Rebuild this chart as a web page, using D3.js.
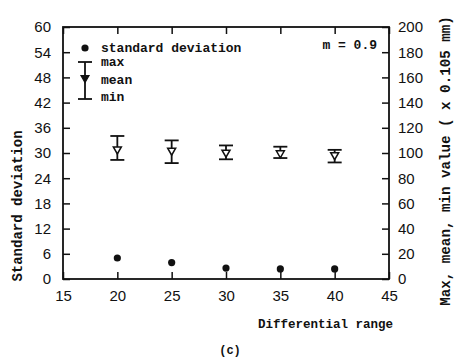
<!DOCTYPE html>
<html><head><meta charset="utf-8">
<script src="https://cdn.jsdelivr.net/npm/d3@7"></script>
<style>body{margin:0;background:#fff}svg{display:block}</style>
</head><body>
<script>
const diffRange = [20, 25, 30, 35, 40];
const stdDev = [5.0, 3.9, 2.6, 2.4, 2.4];
const maxVal = [113.5, 110, 106, 105, 102.5];
const meanVal = [102, 101, 99.5, 99, 97.5];
const minVal = [94.5, 92, 95, 96, 92.5];
const xTicks = [15, 20, 25, 30, 35, 40, 45];
const yLeftTicks = [0, 6, 12, 18, 24, 30, 36, 42, 48, 54, 60];
const yRightTicks = [0, 20, 40, 60, 80, 100, 120, 140, 160, 180, 200];

const W = 454, H = 358;
const L = 63, R = 389, T = 27, B = 279;
const svg = d3.select("body").append("svg").attr("width", W).attr("height", H);
const x = d3.scaleLinear().domain([15, 45]).range([L, R]);
const yL = d3.scaleLinear().domain([0, 60]).range([B, T]);
const yR = d3.scaleLinear().domain([0, 200]).range([B, T]);
const mono = "'Liberation Mono', 'DejaVu Sans Mono', monospace";
const sans = "'Liberation Sans', Arial, sans-serif";
const ink = "#111";
const tl = 7;

function styleAxis(g) {
  g.select(".domain").remove();
  g.selectAll("line").attr("stroke", ink).attr("stroke-width", 1.5);
  g.selectAll("text").attr("font-family", sans).attr("font-size", 15).attr("fill", ink);
}
svg.append("g").attr("transform", `translate(0,${B})`)
  .call(d3.axisBottom(x).tickValues(xTicks).tickSize(-tl).tickPadding(tl + 4).tickFormat(d3.format("d")))
  .call(styleAxis);
svg.append("g").attr("transform", `translate(0,${T})`)
  .call(d3.axisTop(x).tickValues(xTicks).tickSize(-tl).tickFormat(""))
  .call(styleAxis);
svg.append("g").attr("transform", `translate(${L},0)`)
  .call(d3.axisLeft(yL).tickValues(yLeftTicks).tickSize(-tl).tickPadding(tl + 5).tickFormat(d3.format("d")))
  .call(styleAxis);
svg.append("g").attr("transform", `translate(${R},0)`)
  .call(d3.axisRight(yR).tickValues(yRightTicks).tickSize(-tl).tickPadding(tl + 2).tickFormat(d3.format("d")))
  .call(styleAxis);

svg.append("rect").attr("x", L).attr("y", T).attr("width", R - L).attr("height", B - T)
  .attr("fill", "none").attr("stroke", ink).attr("stroke-width", 1.8);

const cap = 7;
const eb = svg.append("g");
diffRange.forEach((d, i) => {
  const cx = x(d);
  eb.append("line").attr("x1", cx).attr("x2", cx).attr("y1", yR(maxVal[i])).attr("y2", yR(minVal[i]))
    .attr("stroke", ink).attr("stroke-width", 1.8);
  [maxVal[i], minVal[i]].forEach(v => eb.append("line").attr("x1", cx - cap).attr("x2", cx + cap)
    .attr("y1", yR(v)).attr("y2", yR(v)).attr("stroke", ink).attr("stroke-width", 1.8));
  const my = yR(meanVal[i]);
  eb.append("path").attr("d", `M${cx - 4},${my - 3.5}L${cx + 4},${my - 3.5}L${cx},${my + 3.5}Z`)
    .attr("fill", "#fff").attr("stroke", ink).attr("stroke-width", 1.5);
});

svg.append("g").selectAll("circle").data(diffRange).join("circle")
  .attr("cx", d => x(d)).attr("cy", (d, i) => yL(stdDev[i])).attr("r", 3.6).attr("fill", ink);

const lg = svg.append("g");
lg.append("circle").attr("cx", 85).attr("cy", 48).attr("r", 3.6).attr("fill", ink);
lg.append("text").attr("x", 101).attr("y", 52).text("standard deviation");
lg.append("line").attr("x1", 85).attr("x2", 85).attr("y1", 62).attr("y2", 99).attr("stroke", ink).attr("stroke-width", 1.8);
[62, 99].forEach(v => lg.append("line").attr("x1", 78).attr("x2", 92).attr("y1", v).attr("y2", v).attr("stroke", ink).attr("stroke-width", 1.8));
lg.append("path").attr("d", `M81,75.5L89,75.5L85,82.5Z`).attr("fill", ink).attr("stroke", ink).attr("stroke-width", 1.2);
lg.append("text").attr("x", 101).attr("y", 66).text("max");
lg.append("text").attr("x", 101).attr("y", 84).text("mean");
lg.append("text").attr("x", 101).attr("y", 101).text("min");
lg.selectAll("text").attr("font-family", mono).attr("font-weight", "bold").attr("font-size", 13).attr("fill", ink);

svg.append("text").attr("x", 377).attr("y", 49).attr("text-anchor", "end")
  .attr("font-family", mono).attr("font-weight", "bold").attr("font-size", 13).attr("fill", ink).text("m = 0.9");

svg.append("text").attr("x", 393).attr("y", 328).attr("text-anchor", "end")
  .attr("font-family", mono).attr("font-weight", "bold").attr("font-size", 12.5).attr("fill", ink).text("Differential range");
svg.append("text").attr("transform", `translate(22,206) rotate(-90)`).attr("text-anchor", "middle")
  .attr("font-family", mono).attr("font-weight", "bold").attr("font-size", 14).attr("fill", ink).text("Standard deviation");
svg.append("text").attr("transform", `translate(450,161) rotate(-90)`).attr("text-anchor", "middle")
  .attr("font-family", mono).attr("font-weight", "bold").attr("font-size", 14.2).attr("fill", ink).text("Max, mean, min value ( x 0.105 mm)");
svg.append("text").attr("x", 230).attr("y", 354).attr("text-anchor", "middle")
  .attr("font-family", mono).attr("font-weight", "bold").attr("font-size", 12).attr("fill", ink).text("(c)");
</script>
</body></html>
